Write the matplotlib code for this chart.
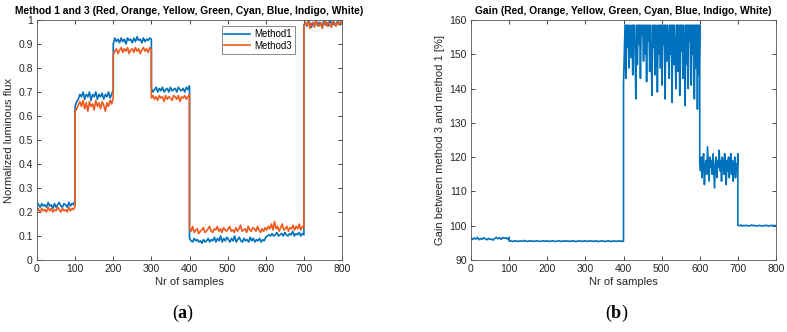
import matplotlib
matplotlib.use("Agg")
import matplotlib.pyplot as plt
import numpy as np

plt.rcParams['font.family'] = ['Liberation Sans', 'DejaVu Sans']
plt.rcParams['mathtext.fontset'] = 'custom'
plt.rcParams['mathtext.rm'] = 'Liberation Serif'
plt.rcParams['mathtext.bf'] = 'Liberation Serif:bold'

# Method 1 - normalized luminous flux per colour block
m1_red = [0.24, 0.23, 0.22, 0.235, 0.225, 0.23, 0.22, 0.24, 0.225, 0.23, 0.215, 0.235, 0.22,
          0.23, 0.24, 0.225, 0.22, 0.235, 0.23, 0.22, 0.24, 0.225, 0.235, 0.23, 0.25]
m1_orange = [0.64, 0.66, 0.67, 0.69, 0.68, 0.70, 0.67, 0.69, 0.68, 0.70, 0.665, 0.69, 0.68,
             0.70, 0.67, 0.69, 0.68, 0.695, 0.67, 0.69, 0.68, 0.70, 0.675, 0.69, 0.71]
m1_yellow = [0.90, 0.925, 0.91, 0.92, 0.905, 0.925, 0.91, 0.92, 0.90, 0.925, 0.915, 0.92, 0.905,
             0.925, 0.91, 0.93, 0.915, 0.92, 0.905, 0.925, 0.91, 0.92, 0.915, 0.925, 0.92]
m1_green = [0.715, 0.70, 0.71, 0.72, 0.70, 0.715, 0.705, 0.72, 0.70, 0.71, 0.715, 0.70, 0.72,
            0.705, 0.71, 0.715, 0.70, 0.72, 0.71, 0.705, 0.715, 0.70, 0.72, 0.71, 0.725]
m1_cyan_blue = [0.09, 0.08, 0.075, 0.09, 0.08, 0.085, 0.075, 0.08, 0.07, 0.085, 0.075, 0.08, 0.09,
                0.075, 0.085, 0.08, 0.095, 0.075, 0.09, 0.08, 0.10, 0.075, 0.09, 0.08, 0.095,
                0.085, 0.075, 0.09, 0.08, 0.10, 0.075, 0.085, 0.095, 0.08, 0.075, 0.09, 0.08,
                0.085, 0.075, 0.095, 0.08, 0.09, 0.075, 0.085, 0.08, 0.09, 0.075, 0.085, 0.08, 0.095]
m1_indigo = [0.095, 0.10, 0.105, 0.10, 0.11, 0.10, 0.105, 0.115, 0.10, 0.105, 0.11, 0.10, 0.115,
             0.105, 0.10, 0.11, 0.105, 0.12, 0.10, 0.11, 0.105, 0.115, 0.10, 0.11, 0.105]
m1_white = [0.98, 0.99, 0.975, 1.0, 0.985, 0.97, 0.99, 0.98, 1.0, 0.975, 0.99, 0.985, 0.97,
            0.995, 0.98, 0.99, 0.975, 1.0, 0.985, 0.98, 0.99, 0.975, 0.995, 0.985, 0.98, 0.99]

# Method 3
m3_red = [0.22, 0.21, 0.20, 0.215, 0.205, 0.21, 0.20, 0.22, 0.205, 0.215, 0.20, 0.21, 0.205,
          0.22, 0.21, 0.20, 0.215, 0.205, 0.21, 0.20, 0.22, 0.205, 0.215, 0.21, 0.225]
m3_orange = [0.62, 0.63, 0.645, 0.66, 0.64, 0.665, 0.63, 0.655, 0.62, 0.66, 0.64, 0.65, 0.625,
             0.665, 0.64, 0.655, 0.63, 0.66, 0.645, 0.62, 0.655, 0.64, 0.665, 0.65, 0.675]
m3_yellow = [0.855, 0.87, 0.88, 0.86, 0.875, 0.885, 0.865, 0.88, 0.87, 0.885, 0.86, 0.875, 0.88,
             0.865, 0.885, 0.87, 0.88, 0.86, 0.875, 0.885, 0.87, 0.88, 0.865, 0.885, 0.875]
m3_green = [0.675, 0.685, 0.67, 0.68, 0.665, 0.685, 0.675, 0.68, 0.66, 0.685, 0.67, 0.68, 0.675,
            0.665, 0.685, 0.68, 0.67, 0.685, 0.66, 0.68, 0.675, 0.685, 0.67, 0.68, 0.69]
m3_cyan_blue_indigo = [0.13, 0.12, 0.14, 0.115, 0.125, 0.13, 0.11, 0.12, 0.125, 0.135, 0.115, 0.12,
                       0.13, 0.14, 0.12, 0.115, 0.13, 0.125, 0.14, 0.12, 0.13, 0.115, 0.135, 0.125,
                       0.12, 0.13, 0.14, 0.12, 0.125, 0.115, 0.135, 0.12, 0.13, 0.145, 0.12, 0.125,
                       0.13, 0.115, 0.14, 0.125, 0.12, 0.135, 0.13, 0.12, 0.14, 0.125, 0.115, 0.13,
                       0.12, 0.135, 0.125, 0.14, 0.13, 0.15, 0.125, 0.16, 0.13, 0.14, 0.12, 0.135,
                       0.15, 0.125, 0.13, 0.14, 0.12, 0.135, 0.13, 0.145, 0.125, 0.14, 0.13, 0.15,
                       0.125, 0.14, 0.135]
m3_white = [0.97, 0.99, 0.98, 0.995, 0.965, 0.985, 0.99, 0.97, 1.0, 0.98, 0.975, 0.99, 0.965,
            0.985, 0.995, 0.975, 0.99, 0.98, 0.97, 0.995, 0.985, 0.975, 0.99, 0.98, 0.995, 0.985]

# gain between method 3 and method 1 [%]
g_red = [96.5, 96.0, 96.4, 96.1, 96.6, 95.9, 96.3, 96.0, 96.5, 96.2, 95.9, 96.3, 96.0, 96.1,
         95.8, 96.3, 96.6, 96.2, 96.5, 96.0, 96.6, 96.3, 96.5, 96.1, 96.6]
g_orange_green = [95.5, 95.6, 95.4, 95.5, 95.6, 95.5, 95.4, 95.6, 95.5, 95.5, 95.7, 95.5, 95.4,
                  95.6, 95.5, 95.6, 95.4, 95.5, 95.6, 95.5, 95.4, 95.5, 95.6, 95.5, 95.5,
                  95.6, 95.4, 95.5, 95.6, 95.5, 95.4, 95.5, 95.6, 95.5, 95.4, 95.6, 95.5, 95.5,
                  95.6, 95.4, 95.5, 95.6, 95.5, 95.4, 95.5, 95.5, 95.6, 95.4, 95.5, 95.6,
                  95.5, 95.4, 95.6, 95.5, 95.5, 95.4, 95.6, 95.5, 95.4, 95.5, 95.6, 95.5, 95.4,
                  95.5, 95.6, 95.5, 95.4, 95.5, 95.6, 95.4, 95.5, 95.5, 95.6, 95.4, 95.5]
g_cyan_blue = [141, 150, 158.5, 143, 158.5, 152, 158.5, 146, 158.5, 155, 149, 158.5, 144, 158.5, 158.5, 151, 137, 158.5, 147, 158.5,
               153, 158.5, 143, 158.5, 156, 158.5, 148, 158.5, 150, 158.5, 142, 158.5, 154, 158.5, 145, 158.5, 149, 138, 158.5, 152,
               158.5, 144, 158.5, 157, 139, 158.5, 150, 158.5, 146, 158.5, 141, 158.5, 153, 158.5, 137, 158.5, 148, 158.5, 155, 143,
               158.5, 150, 158.5, 136, 158.5, 147, 158.5, 152, 140, 158.5, 158.5, 145, 158.5, 138, 158.5, 151, 158.5, 143, 158.5, 149,
               135, 158.5, 147, 158.5, 140, 158.5, 154, 158.5, 141, 158.5, 150, 158.5, 137, 158.5, 146, 158.5, 134, 158.5, 144, 158.5]
g_indigo = [118, 116, 120, 114, 119, 121, 112, 117, 119, 115, 123, 118, 113, 120, 117, 119, 115, 121, 116, 111,
            118, 120, 114, 119, 117, 122, 116, 119, 113, 120, 118, 115, 121, 117, 112, 119, 116, 120, 114, 118,
            121, 115, 119, 113, 117, 120, 114, 118, 116, 121]
g_white = [100.1, 100.0, 100.2, 99.9, 100.1, 100.0, 100.1, 99.9, 100.0, 100.2, 100.0, 100.1,
           99.9, 100.0, 100.1, 100.0, 99.9, 100.1, 100.0, 100.1, 99.9, 100.0, 100.1, 100.0,
           100.1, 100.0]

# sample ranges of each block
limites_m1 = [0, 100, 200, 300, 400, 600, 700, 800]
limites_m3 = [0, 100, 200, 300, 400, 700, 800]
limites_g = [0, 100, 400, 600, 700, 800]


def junta(blocos, limites):
    x, y = [], []
    for i, b in enumerate(blocos):
        x.append(np.linspace(limites[i], limites[i + 1], len(b)))
        y.append(b)
    return np.concatenate(x), np.concatenate(y)


x1, metodo1 = junta([m1_red, m1_orange, m1_yellow, m1_green, m1_cyan_blue, m1_indigo, m1_white], limites_m1)
x3, metodo3 = junta([m3_red, m3_orange, m3_yellow, m3_green, m3_cyan_blue_indigo, m3_white], limites_m3)
xg, ganho = junta([g_red, g_orange_green, g_cyan_blue, g_indigo, g_white], limites_g)

azul = '#0072BD'
laranja = '#EE5A1E'
cinza = '#262626'


def estilo(ax):
    ax.tick_params(direction='in', top=True, right=True, length=3, width=0.6,
                   labelsize=7.5, colors=cinza, pad=3)
    for lado in ax.spines.values():
        lado.set_linewidth(0.6)
        lado.set_color('#555555')


fig = plt.figure(figsize=(7.87, 3.32), dpi=100)

ax1 = fig.add_axes([37 / 787, 72 / 332, 305 / 787, 240 / 332])
ax1.plot(x1, metodo1, color=azul, lw=1.2, label='Method1')
ax1.plot(x3, metodo3, color=laranja, lw=1.2, label='Method3')
ax1.set_xlim(0, 800)
ax1.set_ylim(0, 1)
ax1.set_xticks(range(0, 801, 100))
ax1.set_yticks(np.arange(0, 1.01, 0.1))
ax1.set_yticklabels(['0', '0.1', '0.2', '0.3', '0.4', '0.5', '0.6', '0.7', '0.8', '0.9', '1'])
ax1.set_title('Method 1 and 3 (Red, Orange, Yellow, Green, Cyan, Blue, Indigo, White)',
              fontsize=7.4, fontweight='bold', pad=4)
ax1.set_xlabel('Nr of samples', fontsize=8, color=cinza, labelpad=2)
ax1.set_ylabel('Normalized luminous flux', fontsize=8, color=cinza, labelpad=3)
estilo(ax1)
leg = ax1.legend(loc='upper left', bbox_to_anchor=(0.605, 0.975), fontsize=7, frameon=True,
                 fancybox=False, edgecolor='#555555', handlelength=2.6, borderpad=0.3,
                 labelspacing=0.2, handletextpad=0.5, borderaxespad=0)
leg.get_frame().set_linewidth(0.6)

ax2 = fig.add_axes([471 / 787, 72 / 332, 305 / 787, 240 / 332])
ax2.plot(xg, ganho, color=azul, lw=1.2)
ax2.set_xlim(0, 800)
ax2.set_ylim(90, 160)
ax2.set_xticks(range(0, 801, 100))
ax2.set_yticks(range(90, 161, 10))
ax2.set_title('Gain (Red, Orange, Yellow, Green, Cyan, Blue, Indigo, White)',
              fontsize=7.4, fontweight='bold', pad=4)
ax2.set_xlabel('Nr of samples', fontsize=8, color=cinza, labelpad=2)
ax2.set_ylabel('Gain between method 3 and method 1 [%]', fontsize=8, color=cinza, labelpad=3)
estilo(ax2)

fig.text(183 / 787, 1 - 313 / 332, r'$\mathrm{(}\mathbf{a}\mathrm{)}$', fontsize=13,
         ha='center', va='center')
fig.text(617 / 787, 1 - 313 / 332, r'$\mathrm{(}\mathbf{b}\mathrm{)}$', fontsize=13,
         ha='center', va='center')

fig.savefig('out.png', dpi=100)
